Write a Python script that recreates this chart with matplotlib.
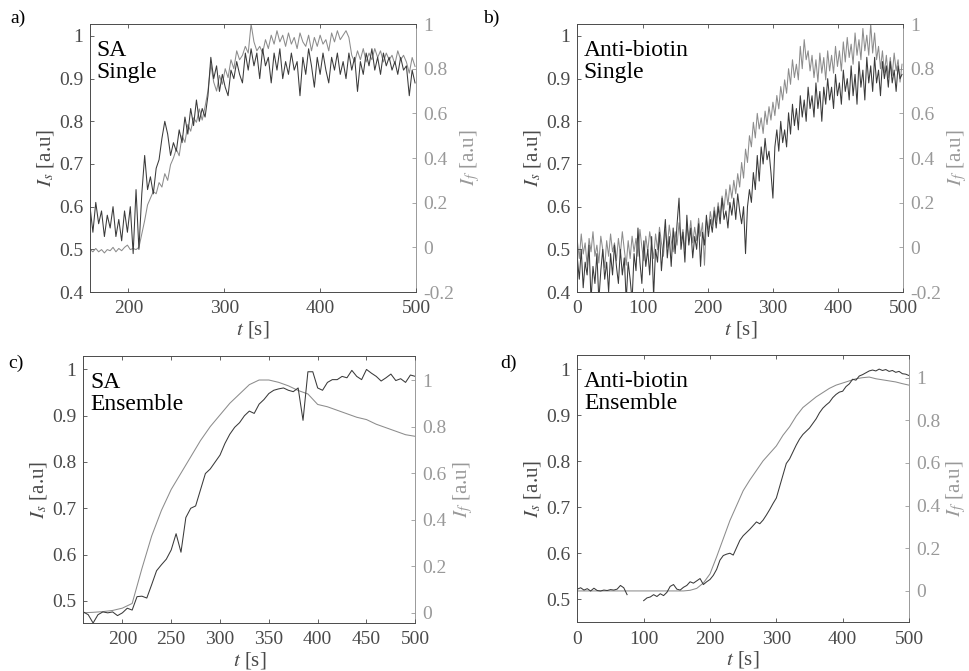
import numpy as np
import matplotlib
matplotlib.use("Agg")
import matplotlib.pyplot as plt
from matplotlib.ticker import FuncFormatter

plt.rcParams['font.family'] = ['Liberation Serif', 'DejaVu Serif']
plt.rcParams['mathtext.fontset'] = 'stix'

DARK = '#3a3a3a'
LIGHT = '#8c8c8c'
AXDARK = '#4a4a4a'
AXLIGHT = '#999999'

# ---- a) SA single, sampled every 3 s from 160 s
a_t0, a_dt = 160, 3
a_Is = [0.60, 0.54, 0.61, 0.56, 0.59, 0.53, 0.58, 0.55, 0.60, 0.53,
        0.57, 0.52, 0.59, 0.54, 0.60, 0.49, 0.64, 0.50, 0.63, 0.72,
        0.64, 0.67, 0.63, 0.69, 0.71, 0.76, 0.80, 0.77, 0.72, 0.75,
        0.73, 0.78, 0.75, 0.81, 0.77, 0.83, 0.79, 0.85, 0.80, 0.83,
        0.81, 0.86, 0.95, 0.90, 0.93, 0.87, 0.91, 0.88, 0.86, 0.92,
        0.90, 0.94, 0.91, 0.89, 0.96, 0.92, 0.97, 0.93, 0.96, 0.90,
        0.97, 0.93, 0.95, 0.89, 0.96, 0.92, 0.97, 0.90, 0.94, 0.91,
        0.96, 0.92, 0.94, 0.86, 0.95, 0.91, 0.97, 0.93, 0.88, 0.95,
        0.91, 0.96, 0.92, 0.89, 0.95, 0.92, 0.96, 0.91, 0.94, 0.90,
        0.96, 0.92, 0.95, 0.87, 0.94, 0.91, 0.96, 0.93, 0.97, 0.92,
        0.95, 0.91, 0.96, 0.93, 0.95, 0.92, 0.94, 0.91, 0.95, 0.92,
        0.93, 0.86, 0.92, 0.89]
a_If = [-0.01, -0.02, -0.005, -0.02, -0.01, -0.025, -0.01, -0.015, 0.0, -0.02,
        -0.005, -0.015, 0.0, 0.01, -0.01, -0.005, -0.01, 0.0, 0.06, 0.12,
        0.19, 0.22, 0.25, 0.24, 0.29, 0.27, 0.33, 0.30, 0.37, 0.40,
        0.44, 0.41, 0.50, 0.47, 0.55, 0.52, 0.58, 0.56, 0.62, 0.57,
        0.63, 0.70, 0.82, 0.74, 0.70, 0.77, 0.73, 0.80, 0.76, 0.84,
        0.80, 0.88, 0.84, 0.86, 0.90, 0.87, 1.00, 0.92, 0.88, 0.90,
        0.87, 0.93, 0.89, 0.95, 0.91, 0.97, 0.92, 0.95, 0.90, 0.96,
        0.91, 0.94, 0.89, 0.96, 0.92, 0.90, 0.95, 0.88, 0.94, 0.90,
        0.95, 0.91, 0.93, 0.88, 0.96, 0.92, 0.97, 0.93, 0.95, 0.97,
        0.94, 0.86, 0.83, 0.88, 0.84, 0.89, 0.83, 0.87, 0.84, 0.89,
        0.85, 0.88, 0.83, 0.87, 0.84, 0.86, 0.82, 0.88, 0.84, 0.86,
        0.83, 0.78, 0.85, 0.81]

# ---- b) Anti-biotin single, every 3 s from 0 s
b_t0, b_dt = 0, 3
b_Is = [0.48, 0.43, 0.50, 0.41, 0.47, 0.44, 0.51, 0.38, 0.46, 0.42,
        0.49, 0.38, 0.45, 0.50, 0.43, 0.47, 0.40, 0.49, 0.44, 0.51,
        0.46, 0.42, 0.50, 0.44, 0.48, 0.38, 0.47, 0.43, 0.38, 0.49,
        0.45, 0.55, 0.47, 0.42, 0.52, 0.46, 0.50, 0.44, 0.53, 0.39,
        0.50, 0.47, 0.54, 0.45, 0.51, 0.57, 0.48, 0.53, 0.46, 0.55,
        0.49, 0.56, 0.62, 0.50, 0.54, 0.47, 0.58, 0.51, 0.55, 0.48,
        0.53, 0.50, 0.56, 0.46, 0.54, 0.51, 0.58, 0.53, 0.57, 0.54,
        0.59, 0.55, 0.60, 0.56, 0.62, 0.57, 0.59, 0.55, 0.61, 0.58,
        0.62, 0.57, 0.63, 0.59, 0.56, 0.60, 0.49, 0.60, 0.64, 0.61,
        0.68, 0.64, 0.72, 0.66, 0.74, 0.70, 0.76, 0.71, 0.73, 0.68,
        0.62, 0.74, 0.78, 0.73, 0.80, 0.75, 0.78, 0.74, 0.82, 0.77,
        0.84, 0.79, 0.83, 0.78, 0.86, 0.81, 0.85, 0.80, 0.88, 0.83,
        0.86, 0.81, 0.89, 0.83, 0.87, 0.80, 0.88, 0.84, 0.90, 0.85,
        0.88, 0.83, 0.91, 0.86, 0.89, 0.84, 0.92, 0.87, 0.90, 0.85,
        0.93, 0.86, 0.91, 0.84, 0.94, 0.88, 0.92, 0.85, 0.95, 0.89,
        0.93, 0.87, 0.95, 0.89, 0.92, 0.86, 0.94, 0.90, 0.93, 0.88,
        0.94, 0.89, 0.92, 0.87, 0.93, 0.90, 0.91]
b_If = [0.03, -0.05, 0.06, -0.03, 0.02, -0.08, 0.04, -0.02, 0.07, -0.04,
        0.01, -0.07, 0.05, -0.01, -0.09, 0.03, -0.04, 0.06, -0.02, 0.02,
        -0.06, 0.04, -0.03, 0.07, -0.01, -0.08, 0.03, -0.05, 0.05, -0.02,
        0.04, -0.04, 0.08, 0.0, -0.06, 0.05, -0.02, 0.07, 0.01, -0.05,
        0.06, -0.01, 0.09, 0.02, -0.04, 0.08, 0.0, 0.10, 0.03, -0.02,
        0.07, 0.01, 0.11, 0.03, 0.08, -0.01, 0.10, 0.04, 0.12, 0.02,
        0.09, 0.03, 0.13, 0.05, 0.11, -0.08, 0.12, 0.08, 0.16, 0.10,
        0.18, 0.12, 0.20, 0.14, 0.23, 0.17, 0.26, 0.19, 0.28, 0.22,
        0.30, 0.24, 0.33, 0.27, 0.38, 0.31, 0.44, 0.38, 0.50, 0.45,
        0.56, 0.49, 0.60, 0.53, 0.58, 0.51, 0.61, 0.55, 0.63, 0.57,
        0.65, 0.59, 0.68, 0.62, 0.72, 0.66, 0.75, 0.69, 0.80, 0.73,
        0.84, 0.76, 0.82, 0.75, 0.90, 0.80, 0.93, 0.84, 0.88, 0.79,
        0.86, 0.76, 0.84, 0.74, 0.87, 0.78, 0.85, 0.75, 0.88, 0.79,
        0.86, 0.78, 0.90, 0.81, 0.88, 0.79, 0.92, 0.83, 0.94, 0.85,
        0.91, 0.82, 0.96, 0.86, 0.93, 0.84, 0.98, 0.88, 0.95, 0.86,
        1.00, 0.87, 0.96, 0.84, 0.90, 0.80, 0.88, 0.78, 0.86, 0.76,
        0.85, 0.77, 0.87, 0.79, 0.84, 0.74, 0.82]

# ---- c) SA ensemble
c_Is_t0, c_Is_dt = 160, 5
c_Is = [0.476, 0.470, 0.452, 0.470, 0.476, 0.474, 0.476, 0.468, 0.474, 0.484,
        0.480, 0.509, 0.510, 0.506, 0.535, 0.565, 0.578, 0.590, 0.610, 0.645,
        0.605, 0.680, 0.700, 0.705, 0.740, 0.775, 0.785, 0.800, 0.815, 0.840,
        0.860, 0.875, 0.885, 0.900, 0.910, 0.905, 0.925, 0.935, 0.948, 0.955,
        0.958, 0.960, 0.955, 0.952, 0.960, 0.890, 0.995, 0.995, 0.960, 0.955,
        0.972, 0.978, 0.978, 0.985, 0.982, 0.998, 0.985, 0.978, 1.000, 0.992,
        0.985, 0.975, 0.982, 0.990, 0.976, 0.980, 0.972, 0.988, 0.985]
c_If_t0, c_If_dt = 160, 10
c_If = [0.0, 0.002, 0.005, 0.01, 0.02, 0.04, 0.19, 0.33, 0.44, 0.53,
        0.60, 0.67, 0.74, 0.80, 0.85, 0.90, 0.94, 0.98, 1.00, 1.00,
        0.99, 0.975, 0.955, 0.94, 0.895, 0.885, 0.87, 0.855, 0.84, 0.83,
        0.81, 0.795, 0.78, 0.765, 0.758]

# ---- d) Anti-biotin ensemble (gap in Is between 75 s and 100 s)
d_Is_t0, d_Is_dt = 0, 5
nan = np.nan
d_Is = [0.522, 0.525, 0.520, 0.523, 0.518, 0.524, 0.519, 0.518, 0.520, 0.519,
        0.521, 0.520, 0.522, 0.530, 0.525, 0.510, nan, nan, nan, nan,
        0.497, 0.503, 0.505, 0.510, 0.506, 0.512, 0.508, 0.515, 0.528, 0.532,
        0.522, 0.520, 0.526, 0.530, 0.538, 0.535, 0.540, 0.545, 0.532, 0.538,
        0.543, 0.552, 0.565, 0.585, 0.595, 0.598, 0.600, 0.596, 0.612, 0.628,
        0.638, 0.645, 0.652, 0.660, 0.668, 0.664, 0.672, 0.683, 0.695, 0.708,
        0.720, 0.745, 0.770, 0.795, 0.805, 0.820, 0.835, 0.848, 0.858, 0.865,
        0.872, 0.882, 0.892, 0.905, 0.915, 0.922, 0.928, 0.938, 0.945, 0.950,
        0.952, 0.962, 0.968, 0.978, 0.976, 0.985, 0.988, 0.992, 0.996, 0.998,
        0.996, 1.000, 0.997, 0.999, 0.995, 0.997, 0.993, 0.995, 0.990, 0.989,
        0.986]
d_If_t0, d_If_dt = 0, 10
d_If = [0.0, 0.0, 0.0, 0.0, 0.0, 0.0, 0.0, 0.0, 0.0, 0.0,
        0.0, 0.0, 0.0, 0.0, 0.0, 0.0, 0.0, 0.003, 0.012, 0.037,
        0.08, 0.16, 0.245, 0.33, 0.40, 0.47, 0.52, 0.565, 0.61, 0.645,
        0.68, 0.73, 0.77, 0.82, 0.86, 0.885, 0.91, 0.93, 0.95, 0.965,
        0.975, 0.985, 0.995, 1.0, 1.003, 0.995, 0.99, 0.985, 0.98, 0.972,
        0.965]


def times(t0, dt, vals):
    return t0 + dt * np.arange(len(vals))


fmt = FuncFormatter(lambda v, p: f'{v:g}')

W, H = 969, 671
fig = plt.figure(figsize=(W / 100, H / 100), dpi=100)

panels = [
    dict(pos=[0.0929, 0.5648, 0.3364, 0.3994], lab='a)', labxy=(10, 18), txt='SA\nSingle',
         xlim=(160, 500), xt=[200, 300, 400, 500],
         yl=(0.4, 1.028), yt=np.arange(0.4, 1.01, 0.1),
         yr=(-0.2, 1.0), yrt=np.arange(-0.2, 1.01, 0.2),
         Is=(a_t0, a_dt, a_Is), If=(a_t0, a_dt, a_If)),
    dict(pos=[0.5958, 0.5648, 0.3364, 0.3994], lab='b)', labxy=(483, 18), txt='Anti-biotin\nSingle',
         xlim=(0, 500), xt=[0, 100, 200, 300, 400, 500],
         yl=(0.4, 1.028), yt=np.arange(0.4, 1.01, 0.1),
         yr=(-0.2, 1.0), yrt=np.arange(-0.2, 1.01, 0.2),
         Is=(b_t0, b_dt, b_Is), If=(b_t0, b_dt, b_If)),
    dict(pos=[0.0860, 0.0715, 0.3426, 0.3979], lab='c)', labxy=(8, 363), txt='SA\nEnsemble',
         xlim=(160, 500), xt=[200, 250, 300, 350, 400, 450, 500],
         yl=(0.452, 1.029), yt=np.arange(0.5, 1.01, 0.1),
         yr=(-0.044, 1.103), yrt=np.arange(0, 1.01, 0.2),
         Is=(c_Is_t0, c_Is_dt, c_Is), If=(c_If_t0, c_If_dt, c_If)),
    dict(pos=[0.5958, 0.0726, 0.3423, 0.3979], lab='d)', labxy=(500, 363), txt='Anti-biotin\nEnsemble',
         xlim=(0, 500), xt=[0, 100, 200, 300, 400, 500],
         yl=(0.45, 1.03), yt=np.arange(0.5, 1.01, 0.1),
         yr=(-0.147, 1.105), yrt=np.arange(0, 1.01, 0.2),
         Is=(d_Is_t0, d_Is_dt, d_Is), If=(d_If_t0, d_If_dt, d_If)),
]

for p in panels:
    ax = fig.add_axes(p['pos'])
    ax2 = ax.twinx()
    ax.set_zorder(ax2.get_zorder() + 1)
    ax.patch.set_visible(False)

    t0, dt, v = p['If']
    ax2.plot(times(t0, dt, v), v, color=LIGHT, lw=0.75)
    t0, dt, v = p['Is']
    ax.plot(times(t0, dt, v), v, color=DARK, lw=0.75)

    ax.set_xlim(*p['xlim'])
    ax.set_ylim(*p['yl'])
    ax2.set_ylim(*p['yr'])
    ax.set_xticks(p['xt'])
    ax.set_yticks(np.round(p['yt'], 2))
    ax2.set_yticks(np.round(p['yrt'], 2))
    ax.yaxis.set_major_formatter(fmt)
    ax2.yaxis.set_major_formatter(fmt)

    ax.tick_params(axis='both', direction='in', length=3, labelsize=14,
                   colors=AXDARK, top=True, right=False, width=0.6)
    ax.tick_params(axis='y', pad=5)
    ax.tick_params(axis='x', pad=6)
    ax2.tick_params(axis='y', direction='in', length=3, labelsize=14,
                    colors=AXLIGHT, width=0.6, pad=5)
    for s in ['left', 'top', 'bottom']:
        ax.spines[s].set_color(AXDARK)
        ax.spines[s].set_linewidth(0.7)
    ax.spines['right'].set_visible(False)
    for s in ['left', 'top', 'bottom']:
        ax2.spines[s].set_visible(False)
    ax2.spines['right'].set_color(AXLIGHT)
    ax2.spines['right'].set_linewidth(0.7)

    ax.set_xlabel('$t$ [s]', fontsize=15, color=AXDARK, labelpad=1)
    ax.set_ylabel('$I_s$ [a.u]', fontsize=15, color=AXDARK, labelpad=2)
    ax2.set_ylabel('$I_f$ [a.u]', fontsize=15, color=AXLIGHT, labelpad=3)

    ax.text(0.02, 0.94, p['txt'], transform=ax.transAxes, ha='left', va='top',
            fontsize=17, color='black', linespacing=1.05)
    lx, ly = p['labxy']
    fig.text(lx / W, 1 - ly / H, p['lab'], fontsize=14, ha='left', va='center')

fig.savefig('out.png', dpi=100)
